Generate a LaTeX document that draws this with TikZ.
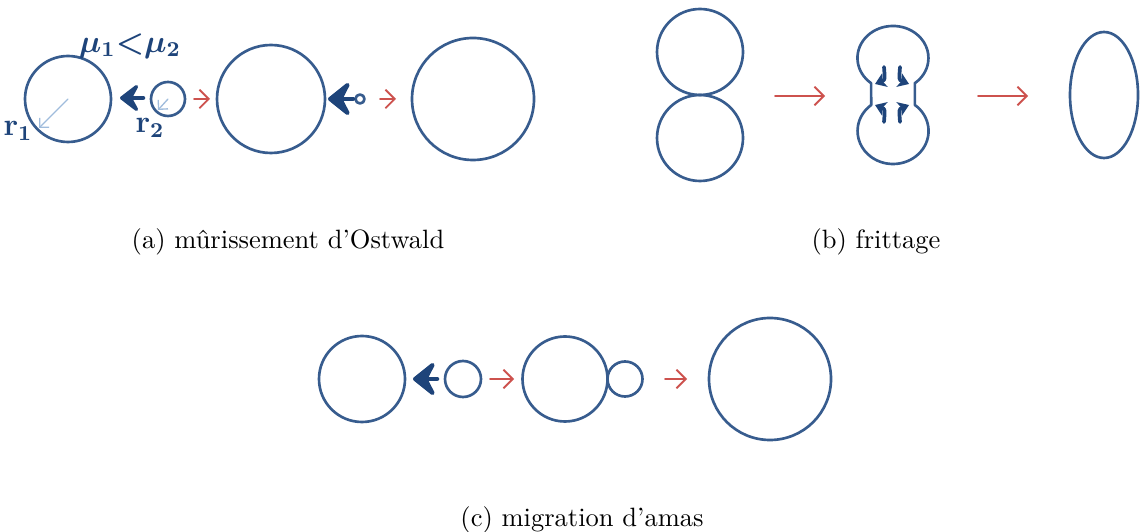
\documentclass[tikz,border=0pt]{standalone}
\usepackage{amsmath,amssymb}
\usepackage{tikz}
\usetikzlibrary{arrows.meta}
\usepackage{xcolor}
\definecolor{grainblue}{RGB}{55,92,142}
\definecolor{pushblue}{RGB}{30,68,122}
\definecolor{evolvered}{RGB}{205,82,78}
\definecolor{radblue}{RGB}{160,188,220}
\tikzset{
  grain/.style={draw=grainblue,line width=1pt},
  evolve/.style={draw=evolvered,line width=.7pt,-{Straight Barb[length=3.5pt,width=7pt]}},
  attract/.style={draw=pushblue,line width=1.7pt,-{Stealth[length=8.5pt,width=13pt,inset=3.5pt,round]}},
  attract big/.style={attract,-{Stealth[length=10pt,width=16pt,inset=4pt,round]}},
  neckflow/.style={draw=pushblue,line width=1.4pt,-{Stealth[length=4pt,width=5.5pt,inset=1pt]}},
  radius arrow/.style={draw=radblue,line width=.5pt,-{Straight Barb[length=2.5pt,width=5pt]}},
  grain label/.style={text=pushblue,font=\large\bfseries\boldmath,inner sep=1pt},
  sub caption/.style={font=\normalsize,inner sep=1pt}
}
\newcommand{\Grain}[2]{\draw[grain] (#1) circle (#2);}

\begin{document}
\begin{tikzpicture}[x=0.3774pt,y=-0.3774pt,line cap=round,line join=round]
  \useasboundingbox (0,0) rectangle (1140,532);
  % (a) ostwald ripening
  \coordinate (a1) at (68,99);
  \coordinate (a2) at (168,99);
  \coordinate (a3) at (271,99);
  \coordinate (a4) at (360,99);
  \coordinate (a5) at (473,99);
  \Grain{a1}{43} \Grain{a2}{17} \Grain{a3}{54} \Grain{a4}{4.5} \Grain{a5}{61}
  \coordinate (r1end) at (39,128);
  \coordinate (r2end) at (158,110);
  \draw[radius arrow] (a1)--(r1end);
  \draw[radius arrow] (a2)--(r2end);
  \coordinate (p1t) at (143,98); \coordinate (p1h) at (120,98);
  \coordinate (p2t) at (353,99); \coordinate (p2h) at (328,99);
  \draw[attract] (p1t)--(p1h);
  \draw[attract big] (p2t)--(p2h);
  \coordinate (e1a) at (194,99); \coordinate (e1b) at (210,99);
  \coordinate (e2a) at (380,99); \coordinate (e2b) at (396,99);
  \draw[evolve] (e1a)--(e1b);
  \draw[evolve] (e2a)--(e2b);
  \node[grain label] (mu) at (130,46) {$\mu_1{<}\mu_2$};
  \node[grain label] (r1) at (18,131) {r$_1$};
  \node[grain label] (r2) at (150,128) {r$_2$};

  % (b) sintering
  \coordinate (b1) at (700,52);
  \coordinate (b2) at (700,138);
  \Grain{b1}{43} \Grain{b2}{43}
  \coordinate (e3a) at (775,96); \coordinate (e3b) at (825,96);
  \coordinate (e4a) at (978,96); \coordinate (e4b) at (1028,96);
  \draw[evolve] (e3a)--(e3b);
  \draw[evolve] (e4a)--(e4b);
  \draw[grain] (871.1,83.2) arc[start angle=128,end angle=412,x radius=35.5,y radius=32]
        -- (914.9,105)
        arc[start angle=-52,end angle=232,x radius=35.5,y radius=33]
        -- cycle;
  \coordinate (n1a) at (884,67);  \coordinate (n1b) at (875,84);
  \coordinate (n2a) at (900,67);  \coordinate (n2b) at (909,84);
  \coordinate (n3a) at (884,122); \coordinate (n3b) at (875,105);
  \coordinate (n4a) at (900,122); \coordinate (n4b) at (909,105);
  \draw[neckflow] (n1a) .. controls (885,80) .. (n1b);
  \draw[neckflow] (n2a) .. controls (899,80) .. (n2b);
  \draw[neckflow] (n3a) .. controls (885,109) .. (n3b);
  \draw[neckflow] (n4a) .. controls (899,109) .. (n4b);
  \coordinate (b5) at (1104,95);
  \draw[grain] (b5) ellipse [x radius=34,y radius=63];

  % (c) cluster migration
  \coordinate (c1) at (362,379);
  \coordinate (c2) at (463,379);
  \coordinate (c3) at (565,379);
  \coordinate (c4) at (625,379);
  \coordinate (c5) at (770,379);
  \Grain{c1}{43} \Grain{c2}{18} \Grain{c3}{42.5} \Grain{c4}{17.5} \Grain{c5}{61}
  \coordinate (p3t) at (437,379); \coordinate (p3h) at (413,379);
  \draw[attract big] (p3t)--(p3h);
  \coordinate (e5a) at (490,379); \coordinate (e5b) at (514,379);
  \coordinate (e6a) at (665,379); \coordinate (e6b) at (687,379);
  \draw[evolve] (e5a)--(e5b);
  \draw[evolve] (e6a)--(e6b);

  \node[sub caption] (capa) at (288,242) {(a) mûrissement d'Ostwald};
  \node[sub caption] (capb) at (876,242) {(b) frittage};
  \node[sub caption] (capc) at (582,520) {(c) migration d'amas};
\end{tikzpicture}
\end{document}
